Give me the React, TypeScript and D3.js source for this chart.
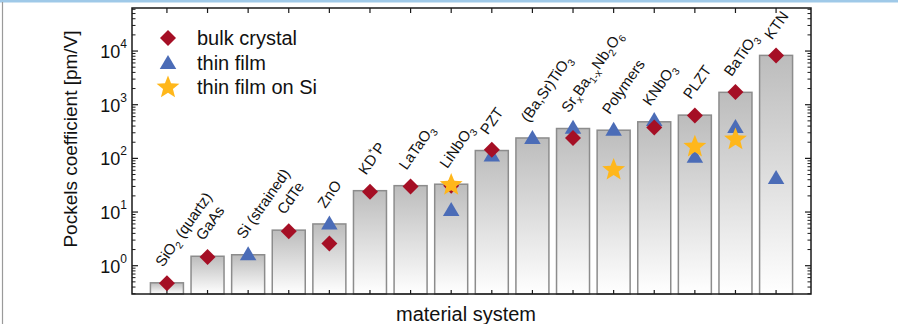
import React from "react";
import * as d3 from "d3";

const categories = [
  "SiO2", "GaAs", "Si", "CdTe", "ZnO", "KDP", "LaTaO3", "LiNbO3", "PZT",
  "BST", "SBN", "Polymers", "KNbO3", "PLZT", "BaTiO3", "KTN",
];

const labelParts: [string, string][][] = [
  [["SiO", ""], ["2", "sub"], [" (quartz)", ""]],
  [["GaAs", ""]],
  [["Si (strained)", ""]],
  [["CdTe", ""]],
  [["ZnO", ""]],
  [["KD", ""], ["*", "sup"], ["P", ""]],
  [["LaTaO", ""], ["3", "sub"]],
  [["LiNbO", ""], ["3", "sub"]],
  [["PZT", ""]],
  [["(Ba,Sr)TiO", ""], ["3", "sub"]],
  [["Sr", ""], ["x", "sub"], ["Ba", ""], ["1-x", "sub"], ["Nb", ""], ["2", "sub"], ["O", ""], ["6", "sub"]],
  [["Polymers", ""]],
  [["KNbO", ""], ["3", "sub"]],
  [["PLZT", ""]],
  [["BaTiO", ""], ["3", "sub"]],
  [["KTN", ""]],
];

const barValues = [0.48, 1.5, 1.6, 4.6, 6.0, 25, 31, 33, 140, 240, 360, 335, 480, 640, 1700, 8300];

const bulkCats = ["SiO2", "GaAs", "CdTe", "ZnO", "KDP", "LaTaO3", "LiNbO3", "PZT", "SBN", "KNbO3", "PLZT", "BaTiO3", "KTN"];
const bulkValues = [0.47, 1.45, 4.4, 2.6, 24, 30, 31, 145, 240, 375, 630, 1720, 8300];

const filmCats = ["Si", "ZnO", "LiNbO3", "PZT", "BST", "SBN", "Polymers", "KNbO3", "PLZT", "BaTiO3", "KTN"];
const filmValues = [1.7, 6.4, 11.4, 118, 250, 390, 355, 540, 112, 400, 45];

const siCats = ["LiNbO3", "Polymers", "PLZT", "BaTiO3"];
const siValues = [32, 61, 165, 225];

const majorTicks = [1, 10, 100, 1000, 10000];
const majorExp = ["0", "1", "2", "3", "4"];

const legendLabels = ["bulk crystal", "thin film", "thin film on Si"];

const W = 898, H = 324;
const L = 132, R = 811, T = 8, B = 294;
const FONT = "'Liberation Sans', Arial, Helvetica, sans-serif";
const RED = "#A50F25";
const BLUE = "#4B6CB7";
const GOLD = "#FFB71B";

function starPath(cx: number, cy: number, ro: number, ri: number) {
  const pts: string[] = [];
  for (let i = 0; i < 10; i++) {
    const r = i % 2 === 0 ? ro : ri;
    const a = -Math.PI / 2 + (i * Math.PI) / 5;
    pts.push(`${(cx + r * Math.cos(a)).toFixed(2)},${(cy + r * Math.sin(a)).toFixed(2)}`);
  }
  return "M" + pts.join("L") + "Z";
}
const diamond = (cx: number, cy: number, s: number) =>
  `M${cx},${cy - s}L${cx + s},${cy}L${cx},${cy + s}L${cx - s},${cy}Z`;
const triangle = (cx: number, cy: number, w: number, h: number) =>
  `M${cx},${cy - h / 2}L${cx + w / 2},${cy + h / 2}L${cx - w / 2},${cy + h / 2}Z`;

function RichLabel({ parts, x, y, size, angle }: { parts: [string, string][]; x: number; y: number; size: number; angle: number }) {
  let shift = 0;
  const spans = parts.map(([t, m], i) => {
    const target = m === "sub" ? 4 : m === "sup" ? -6 : 0;
    const dy = target - shift;
    shift = target;
    return (
      <tspan key={i} dy={dy} fontSize={m ? size * 0.68 : size}>
        {t}
      </tspan>
    );
  });
  return (
    <g transform={`translate(${x},${y}) rotate(${angle})`}>
      <text x={0} y={0} fontSize={size} fill="#111" fontFamily={FONT}>
        {spans}
      </text>
    </g>
  );
}

export default function App() {
  const x = d3.scalePoint<string>().domain(categories).range([L, R]).padding(0.86);
  const y = d3.scaleLog().domain([0.297, 63400]).range([B, T]);
  const bw = 33;

  const minor: number[] = [];
  for (let d = -1; d <= 4; d++) {
    for (let k = 2; k <= 9; k++) {
      const v = k * Math.pow(10, d);
      if (v > 0.297 && v < 63400) minor.push(v);
    }
  }

  return (
    <svg width={W} height={H} style={{ position: "absolute", left: 0, top: 0, background: "#fff" }}>
      <defs>
        <linearGradient id="barg" x1="0" y1="0" x2="0" y2="1">
          <stop offset="0" stopColor="#bcbcbc" />
          <stop offset="1" stopColor="#ffffff" />
        </linearGradient>
      </defs>
      <rect x={0} y={0} width={W} height={2.5} fill="#9fc9e8" />
      <line x1={2.5} y1={2} x2={2.5} y2={H} stroke="#9a9a9a" strokeWidth={1.2} />

      {categories.map((c, i) => {
        const cx = x(c)!;
        const top = y(barValues[i]);
        return (
          <rect key={c} x={cx - bw / 2} y={top} width={bw} height={B - top}
            fill="url(#barg)" stroke="#8c8c8c" strokeWidth={1.5} />
        );
      })}

      <rect x={L} y={T} width={R - L} height={B - T} fill="none" stroke="#1a1a1a" strokeWidth={1.5} />

      {categories.map((c) => (
        <g key={"t" + c} stroke="#1a1a1a" strokeWidth={1.2}>
          <line x1={x(c)} x2={x(c)} y1={B} y2={B - 4} />
          <line x1={x(c)} x2={x(c)} y1={T} y2={T + 5} />
        </g>
      ))}

      {majorTicks.map((v) => (
        <g key={"m" + v} stroke="#1a1a1a" strokeWidth={1.2}>
          <line x1={L} x2={L + 6} y1={y(v)} y2={y(v)} />
          <line x1={R} x2={R - 6} y1={y(v)} y2={y(v)} />
        </g>
      ))}
      {minor.map((v) => (
        <g key={"n" + v} stroke="#1a1a1a" strokeWidth={1}>
          <line x1={L} x2={L + 3.5} y1={y(v)} y2={y(v)} />
          <line x1={R} x2={R - 3.5} y1={y(v)} y2={y(v)} />
        </g>
      ))}
      {majorTicks.map((v, i) => (
        <text key={"l" + v} x={127} y={y(v) + 7} textAnchor="end" fontSize={18} fontFamily={FONT} fill="#111">
          10<tspan dy={-10} fontSize={12}>{majorExp[i]}</tspan>
        </text>
      ))}

      {categories.map((c, i) => (
        <RichLabel key={"c" + c} parts={labelParts[i]} x={x(c)! - 4} y={y(barValues[i]) - 15} size={15} angle={-55} />
      ))}

      {filmCats.map((c, i) => (
        <path key={"f" + c} d={triangle(x(c)!, y(filmValues[i]), 16.5, 14)} fill={BLUE} />
      ))}
      {bulkCats.map((c, i) => (
        <path key={"b" + c} d={diamond(x(c)!, y(bulkValues[i]), 8)} fill={RED} />
      ))}
      {siCats.map((c, i) => (
        <path key={"s" + c} d={starPath(x(c)!, y(siValues[i]), 12, 5.2)} fill={GOLD} />
      ))}

      <path d={diamond(168, 38, 8)} fill={RED} />
      <path d={triangle(168, 62, 16.5, 14)} fill={BLUE} />
      <path d={starPath(168, 87.5, 12, 5.2)} fill={GOLD} />
      {legendLabels.map((t, i) => (
        <text key={t} x={197} y={45 + i * 24.5} fontSize={20} fontFamily={FONT} fill="#111">{t}</text>
      ))}

      <text transform={`translate(77,139) rotate(-90)`} textAnchor="middle" fontSize={19} fontFamily={FONT} fill="#111">
        Pockels coefficient [pm/V]
      </text>
      <text x={466} y={321} textAnchor="middle" fontSize={20} fontFamily={FONT} fill="#111">
        material system
      </text>
    </svg>
  );
}
